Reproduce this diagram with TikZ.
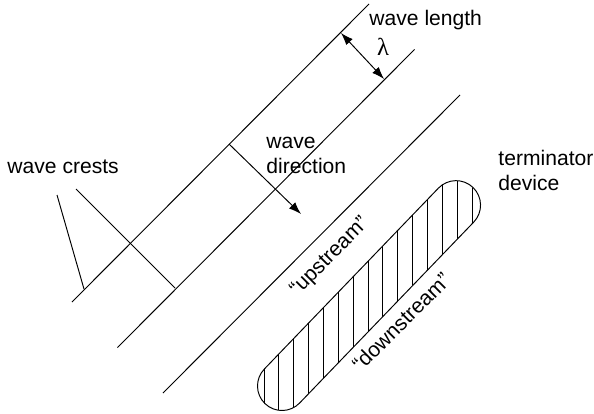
\documentclass[tikz,border=0pt]{standalone}
\usepackage{fontspec}
\setmainfont{Liberation Sans}
\newfontfamily\greekfont{Liberation Serif}
\usetikzlibrary{arrows.meta}

\begin{document}
\begin{tikzpicture}[x=0.02cm,y=0.02cm,>={Latex[length=7pt,width=5pt]},
  line width=0.55pt,
  label/.style={inner sep=0pt,font=\fontsize{12}{14.2}\selectfont},
  device/.style={shift={(282,27)},rotate=46.1}]
  % Frame of the figure.
  \useasboundingbox (0,0) rectangle (594,413);
  % Three wave crests, one wave length apart.
  \pgfmathsetmacro{\gap}{45.5}
  \foreach \k in {1,2,3} {
    \coordinate (s\k) at ({72+\gap*(\k-1)},{111-\gap*(\k-1)});
    \coordinate (e\k) at ({369+\gap*(\k-1)},{409-\gap*(\k-1)});
    \draw (s\k) -- (e\k);
  }
  % Label and pointers to the first two crests.
  \node[label,anchor=base west] (crests) at (7,240) {wave crests};
  \coordinate (p1) at (57,218);
  \coordinate (q1) at (84,124);
  \coordinate (p2) at (76,224);
  \coordinate (q2) at (175,125);
  \draw (p1) -- (q1);
  \draw (p2) -- (q2);
  % Wave direction, normal to the crests.
  \coordinate (d0) at (229,269);
  \coordinate (d1) at (301,199);
  \draw[->] (d0) -- (d1);
  \node[label,anchor=base west,align=left] (direction) at (266,240) {wave\\direction};
  % Wave length between crest 1 and crest 2.
  \coordinate (l0) at (341,380);
  \coordinate (l1) at (384,334);
  \draw[<->] (l0) -- (l1);
  \node[label,font=\greekfont\fontsize{14}{14}\selectfont] (lambda) at (383,366) {λ};
  \node[label,anchor=base west] (length) at (369,387) {wave length};
  % Terminator device: a hatched stadium at about 46 degrees.
  \pgfmathsetmacro{\len}{251}
  \pgfmathsetmacro{\rad}{24.5}
  \begin{scope}
    \clip[device] (0,-\rad) -- (\len,-\rad) arc (-90:90:\rad)
      -- (0,\rad) arc (90:270:\rad) -- cycle;
    \foreach \i in {0,...,14}
      \draw ({264+14.86*\i},0) -- ++(0,240);
  \end{scope}
  \draw[device] (0,-\rad) -- (\len,-\rad) arc (-90:90:\rad)
    -- (0,\rad) arc (90:270:\rad) -- cycle;
  \node[label,rotate=45] (up) at (330,156) {“upstream”};
  \node[label,rotate=45] (down) at (401,91) {“downstream”};
  \node[label,anchor=base west,align=left] (terminator) at (498,223) {terminator\\device};
\end{tikzpicture}
\end{document}
